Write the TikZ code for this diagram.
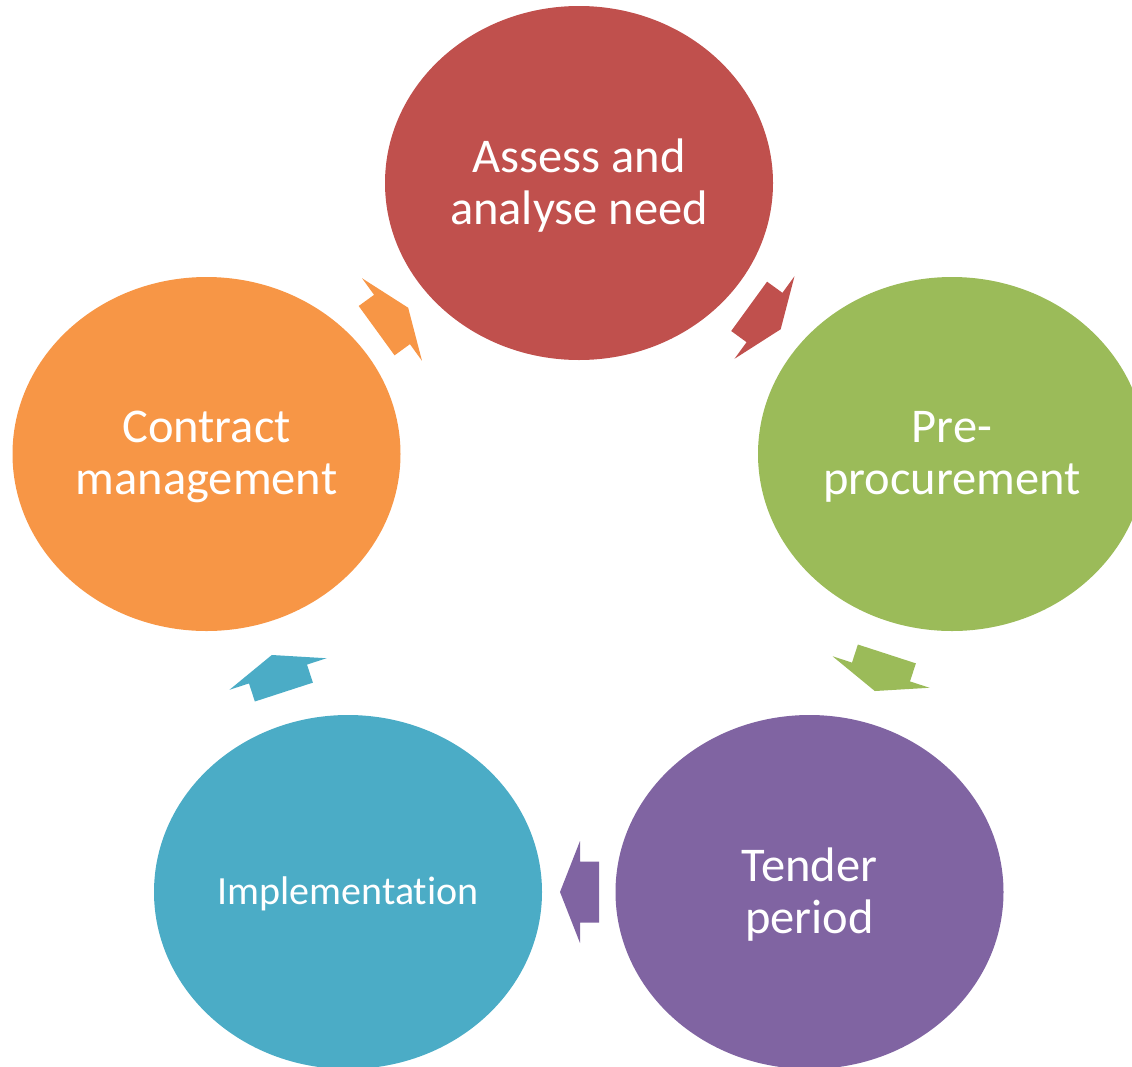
\documentclass[tikz,border=0pt]{standalone}
\usepackage{fontspec}
\setmainfont{Carlito}[Ligatures=NoCommon]
\usetikzlibrary{shapes.geometric}
\definecolor{cred}{HTML}{C0504D}
\definecolor{cgreen}{HTML}{9BBB59}
\definecolor{cpurple}{HTML}{8064A2}
\definecolor{cblue}{HTML}{4BACC6}
\definecolor{corange}{HTML}{F79646}
\tikzset{
  stage/.style={ellipse, fill=#1, draw=none, minimum width=388pt, minimum height=354pt,
    inner sep=0pt},
  stagetext/.style={inner sep=0pt, text=white, align=center, font=\fontsize{48.5}{52}\selectfont},
  cyclearrow/.style={fill=#1, draw=none}
}
\newcommand\cyclearrowat[4]{%
  \fill[cyclearrow=#1, shift={(#2,#3)}, rotate=-#4]
    (-19,-30.5) -- (0,-30.5) -- (0,-51) -- (20,0) -- (0,51) -- (0,30.5) -- (-19,30.5) -- cycle;}
\begin{document}
\begin{tikzpicture}[x=1pt,y=-1pt]
\useasboundingbox (0,0) rectangle (1132,1066);
\clip (0,0) rectangle (1132,1066);
\node[stage=cred]    (assess)   at (579,183) {};
\node[stage=cgreen]  (pre)      at (952,454) {};
\node[stage=cpurple] (tender)   at (809.5,892) {};
\node[stage=cblue]   (impl)     at (348,892) {};
\node[stage=corange] (contract) at (206.5,454) {};
\node[stagetext] (assesstext)   at ([yshift=-3pt]assess.center) {Assess and\\analyse need};
\node[stagetext] (pretext)      at ([yshift=-3pt]pre.center) {Pre-\\procurement};
\node[stagetext] (tendertext)   at ([yshift=-3pt]tender.center) {Tender\\period};
\node[stagetext, font=\fontsize{40}{48}\selectfont] (impltext) at ([yshift=-2pt]impl.center) {Implementation};
\node[stagetext] (contracttext) at ([yshift=-3pt]contract.center) {Contract\\management};
\cyclearrowat{cred}{764.5}{317.5}{36}
\cyclearrowat{cgreen}{881}{672}{108}
\cyclearrowat{cpurple}{580}{892}{180}
\cyclearrowat{cblue}{278}{674}{252}
\cyclearrowat{corange}{392}{319.5}{324}
\end{tikzpicture}
\end{document}
